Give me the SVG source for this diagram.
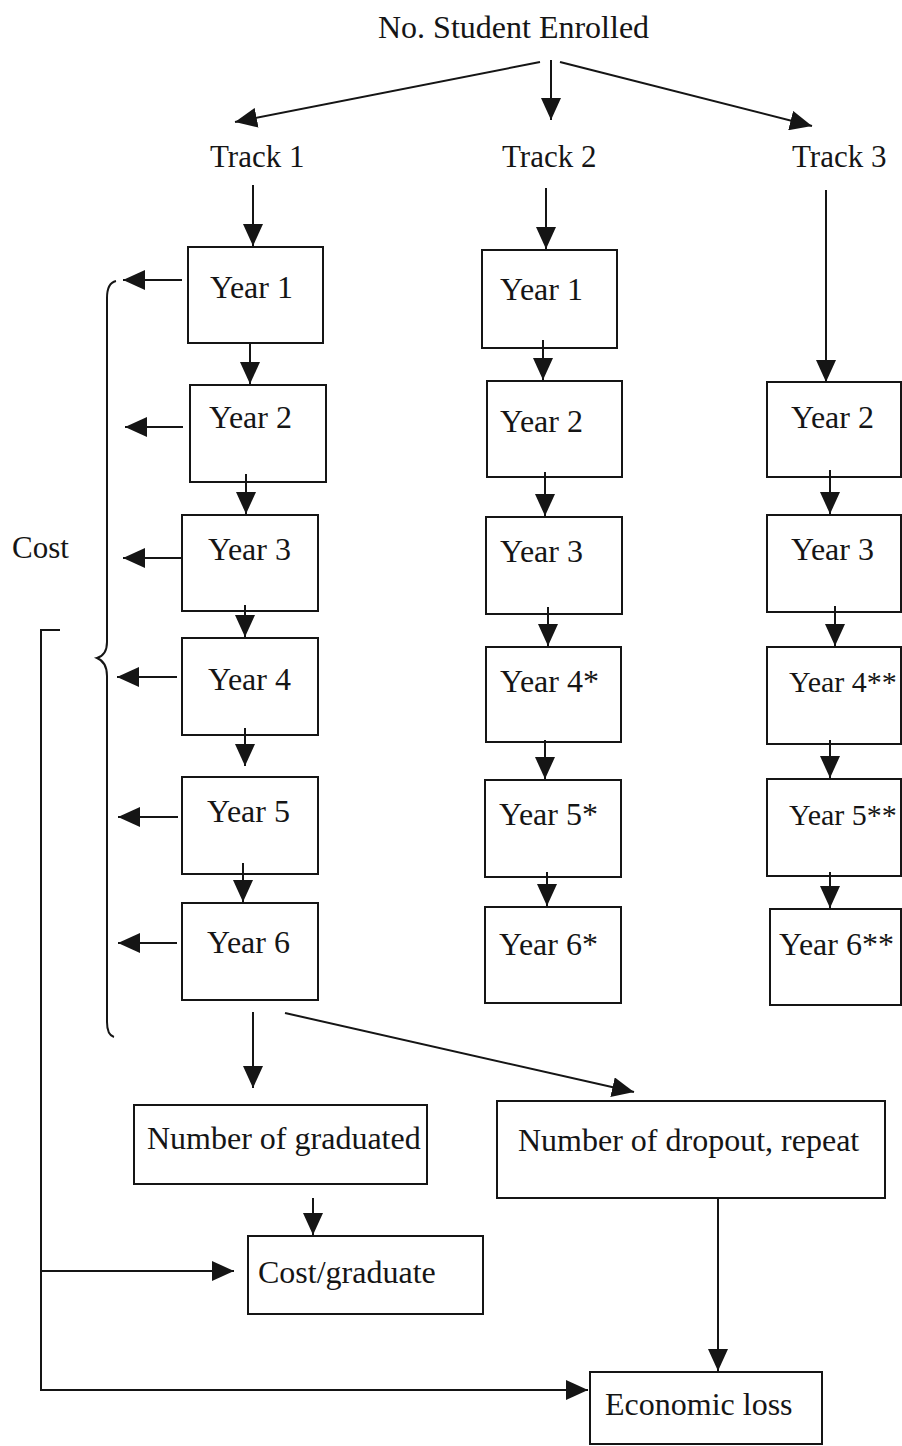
<svg xmlns="http://www.w3.org/2000/svg" width="902" height="1446" viewBox="0 0 902 1446">
<style>
.b{fill:#fff;stroke:#151515;stroke-width:2}
.t{font-family:"Liberation Serif","Times New Roman",serif;font-size:31px;fill:#151515}
.y{font-family:"Liberation Serif","Times New Roman",serif;font-size:32px;fill:#151515}
.tb{font-family:"Liberation Serif","Times New Roman",serif;font-size:32px;fill:#151515}
.c line,.c path,.c polyline{stroke:#151515;stroke-width:2;fill:none}
</style>
<defs>
<marker id="ah" markerUnits="userSpaceOnUse" markerWidth="22" markerHeight="20" refX="22" refY="10" orient="auto">
<path d="M0,0 L22,10 L0,20 z" fill="#151515"/>
</marker>
</defs>
<rect width="902" height="1446" fill="#fff"/>
<g id="title"><text class="t" x="378" y="38" style="font-size:32px">No. Student Enrolled</text></g>
<g id="track1"><text class="t" x="210" y="167">Track 1</text></g>
<g id="track2"><text class="t" x="502" y="167">Track 2</text></g>
<g id="track3"><text class="t" x="792" y="167">Track 3</text></g>
<g id="cost"><text class="t" x="12" y="558">Cost</text></g>

<g id="t1y1"><rect class="b" x="188" y="247" width="135" height="96"/><text class="y" x="210" y="298">Year 1</text></g>
<g id="t1y2"><rect class="b" x="190" y="385" width="136" height="97"/><text class="y" x="209" y="428">Year 2</text></g>
<g id="t1y3"><rect class="b" x="182" y="515" width="136" height="96"/><text class="y" x="208" y="560">Year 3</text></g>
<g id="t1y4"><rect class="b" x="182" y="638" width="136" height="97"/><text class="y" x="208" y="690">Year 4</text></g>
<g id="t1y5"><rect class="b" x="182" y="777" width="136" height="97"/><text class="y" x="207" y="822">Year 5</text></g>
<g id="t1y6"><rect class="b" x="182" y="903" width="136" height="97"/><text class="y" x="207" y="953">Year 6</text></g>

<g id="t2y1"><rect class="b" x="482" y="250" width="135" height="98"/><text class="y" x="500" y="300">Year 1</text></g>
<g id="t2y2"><rect class="b" x="487" y="381" width="135" height="96"/><text class="y" x="500" y="432">Year 2</text></g>
<g id="t2y3"><rect class="b" x="486" y="517" width="136" height="97"/><text class="y" x="500" y="562">Year 3</text></g>
<g id="t2y4"><rect class="b" x="486" y="647" width="135" height="95"/><text class="y" x="500" y="692">Year 4*</text></g>
<g id="t2y5"><rect class="b" x="485" y="780" width="136" height="97"/><text class="y" x="499" y="825">Year 5*</text></g>
<g id="t2y6"><rect class="b" x="485" y="907" width="136" height="96"/><text class="y" x="499" y="955">Year 6*</text></g>

<g id="t3y2"><rect class="b" x="767" y="382" width="134" height="95"/><text class="y" x="791" y="428">Year 2</text></g>
<g id="t3y3"><rect class="b" x="767" y="515" width="134" height="97"/><text class="y" x="791" y="560">Year 3</text></g>
<g id="t3y4"><rect class="b" x="767" y="647" width="134" height="97"/><text class="y" x="789" y="692" style="font-size:30px">Year 4**</text></g>
<g id="t3y5"><rect class="b" x="767" y="779" width="134" height="97"/><text class="y" x="789" y="825" style="font-size:30px">Year 5**</text></g>
<g id="t3y6"><rect class="b" x="770" y="909" width="131" height="96"/><text class="y" x="779" y="955">Year 6**</text></g>

<g id="graduated"><rect class="b" x="134" y="1105" width="293" height="79"/><text class="tb" x="147" y="1149">Number of graduated</text></g>
<g id="dropout"><rect class="b" x="497" y="1101" width="388" height="97"/><text class="tb" x="518" y="1151">Number of dropout, repeat</text></g>
<g id="costgrad"><rect class="b" x="248" y="1236" width="235" height="78"/><text class="tb" x="258" y="1283">Cost/graduate</text></g>
<g id="econ"><rect class="b" x="590" y="1372" width="232" height="72"/><text class="tb" x="605" y="1415">Economic loss</text></g>

<g id="connectors" class="c">
<line x1="540" y1="62" x2="235" y2="122" marker-end="url(#ah)"/>
<line x1="551" y1="60" x2="551" y2="120" marker-end="url(#ah)"/>
<line x1="560" y1="62" x2="812" y2="126" marker-end="url(#ah)"/>
<line x1="253" y1="185" x2="253" y2="246" marker-end="url(#ah)"/>
<line x1="546" y1="188" x2="546" y2="249" marker-end="url(#ah)"/>
<line x1="826" y1="190" x2="826" y2="382" marker-end="url(#ah)"/>

<line x1="250" y1="343" x2="250" y2="384" marker-end="url(#ah)"/>
<line x1="246" y1="474" x2="246" y2="514" marker-end="url(#ah)"/>
<line x1="245" y1="605" x2="245" y2="637" marker-end="url(#ah)"/>
<line x1="245" y1="728" x2="245" y2="766" marker-end="url(#ah)"/>
<line x1="243" y1="863" x2="243" y2="902" marker-end="url(#ah)"/>

<line x1="182" y1="280" x2="123" y2="280" marker-end="url(#ah)"/>
<line x1="183" y1="427" x2="125" y2="427" marker-end="url(#ah)"/>
<line x1="182" y1="558" x2="123" y2="558" marker-end="url(#ah)"/>
<line x1="177" y1="677" x2="117" y2="677" marker-end="url(#ah)"/>
<line x1="178" y1="817" x2="118" y2="817" marker-end="url(#ah)"/>
<line x1="177" y1="943" x2="118" y2="943" marker-end="url(#ah)"/>

<line x1="543" y1="340" x2="543" y2="380" marker-end="url(#ah)"/>
<line x1="545" y1="472" x2="545" y2="516" marker-end="url(#ah)"/>
<line x1="548" y1="607" x2="548" y2="646" marker-end="url(#ah)"/>
<line x1="545" y1="740" x2="545" y2="779" marker-end="url(#ah)"/>
<line x1="547" y1="872" x2="547" y2="906" marker-end="url(#ah)"/>

<line x1="830" y1="470" x2="830" y2="514" marker-end="url(#ah)"/>
<line x1="835" y1="606" x2="835" y2="646" marker-end="url(#ah)"/>
<line x1="830" y1="740" x2="830" y2="778" marker-end="url(#ah)"/>
<line x1="830" y1="872" x2="830" y2="908" marker-end="url(#ah)"/>

<path d="M116,281 Q107,283 107,298 L107,642 Q107,655 97,658 Q107,662 107,676 L107,1022 Q107,1035 114,1037"/>

<line x1="253" y1="1012" x2="253" y2="1088" marker-end="url(#ah)"/>
<line x1="285" y1="1013" x2="634" y2="1092" marker-end="url(#ah)"/>
<line x1="313" y1="1198" x2="313" y2="1235" marker-end="url(#ah)"/>
<line x1="718" y1="1199" x2="718" y2="1371" marker-end="url(#ah)"/>
<polyline points="60,630 41,630 41,1390 588,1390" marker-end="url(#ah)"/>
<line x1="41" y1="1271" x2="234" y2="1271" marker-end="url(#ah)"/>
</g>
</svg>
